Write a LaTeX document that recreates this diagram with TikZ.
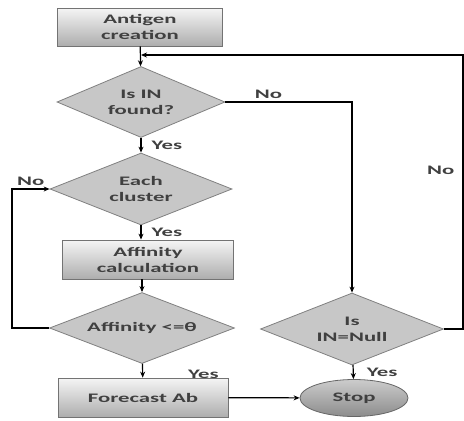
\documentclass[tikz,border=0pt]{standalone}
\usepackage{fontspec}
\newfontfamily\flowfont{Carlito}[FakeStretch=1.75]
\usetikzlibrary{arrows.meta,shapes.geometric}

\begin{document}
\begin{tikzpicture}[x=1pt,y=-1pt,font=\flowfont\bfseries\fontsize{13}{16}\selectfont,text=black!75,>={Stealth[length=6pt,width=5pt]},line width=1.2pt,
box/.style={draw=black!55,line width=.8pt,top color=black!4,bottom color=black!32,align=center,minimum height=38pt},
decision/.style={diamond,aspect=2.5,draw=black!50,line width=.8pt,fill=black!22,align=center,inner sep=0pt},
term/.style={ellipse,draw=black!60,line width=.8pt,top color=black!20,bottom color=black!45,minimum width=108pt,minimum height=37pt},
lbl/.style={font=\flowfont\bfseries\fontsize{13}{16}\selectfont,inner sep=2pt}]
\useasboundingbox (0,0) rectangle (464,421);
\node[box,minimum width=165pt] (antigen) at (140,27) {Antigen\\creation};
\node[decision,minimum width=168pt,minimum height=71pt] (found) at (141,102) {Is IN\\found?};
\node[decision,minimum width=182pt,minimum height=72pt] (each) at (141,189) {Each\\cluster};
\node[box,minimum width=171pt,minimum height=39pt] (calc) at (148,259.5) {Affinity\\calculation};
\node[decision,minimum width=185pt,minimum height=71pt] (affin) at (142,328) {Affinity <=θ};
\node[box,minimum width=170pt,minimum height=39pt] (forecast) at (143,397.5) {Forecast Ab};
\node[decision,minimum width=183pt,minimum height=72pt] (isnull) at (352,329) {Is\\IN=Null};
\node[term] (stop) at (354,398) {Stop};
\coordinate (rloop) at (463,55);
\coordinate (join) at (141,55);
\coordinate (lloop) at (12,328);
\draw[->] (antigen)--(found);
\draw[->] (found)--node[lbl,right=8pt]{Yes}(each);
\draw[->] (each.south)--node[lbl,right=8pt]{Yes}(each.south|-calc.north);
\draw[->] (affin.north|-calc.south)--(affin.north);
\draw[->] (affin)--node[lbl,right=43pt,yshift=-4pt]{Yes}(forecast);
\draw[->] (forecast)--(stop);
\draw[->] (isnull)--node[lbl,right=11pt]{Yes}(stop);
\draw[->] (found.east)-|node[lbl,pos=.17,above=1pt]{No}(isnull.north);
\draw[->] (affin.west)--(lloop)|-node[lbl,pos=.75,above=1pt]{No}(each.west);
\draw[->] (isnull.east)-|node[lbl,pos=.79,left=6pt]{No}(rloop)--(join);
\end{tikzpicture}
\end{document}
